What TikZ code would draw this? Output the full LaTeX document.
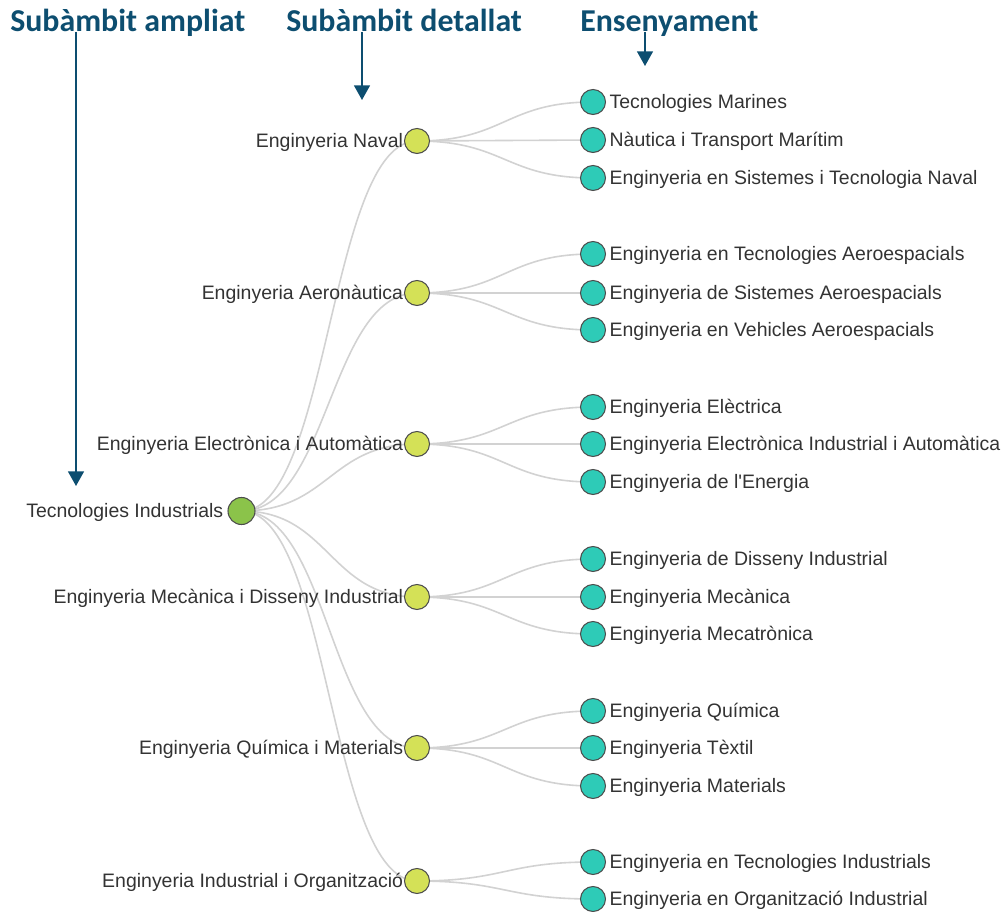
\documentclass[tikz,border=0pt]{standalone}
\usepackage{fontspec}
\setmainfont{Liberation Sans}
\newfontfamily\headfont{Carlito}
\usepackage{tikz}
\usetikzlibrary{arrows.meta,backgrounds}
\definecolor{headblue}{HTML}{0D4E70}
\definecolor{rootgreen}{HTML}{8BC34A}
\definecolor{subyellow}{HTML}{D4E157}
\definecolor{leafteal}{HTML}{2ECBB7}
\definecolor{linkgrey}{HTML}{D2D2D2}
\definecolor{txtgrey}{HTML}{333333}

\begin{document}
\begin{tikzpicture}[x=0.75pt, y=-0.75pt,
    dot/.style={circle, draw=black!70, line width=0.8pt, inner sep=0, minimum size=18.75pt},
    rootdot/.style={dot, fill=rootgreen, minimum size=20.25pt},
    subdot/.style={dot, fill=subyellow},
    leafdot/.style={dot, fill=leafteal},
    lbl/.style={text=txtgrey, font=\fontsize{14.6}{16}\selectfont, inner sep=0.5pt, yshift=-0.8pt},
    head/.style={text=headblue, font=\headfont\bfseries\fontsize{23.9}{28}\selectfont, inner sep=0, anchor=base west},
    hdarrow/.style={draw=headblue, line width=1.1pt, -{Triangle[width=12pt,length=11pt]}},
    link/.style={draw=linkgrey, line width=1.2pt}]
      \useasboundingbox (0,0) rectangle (1001,912);
      % headers
      \node[head] (h1) at (10,32) {Subàmbit ampliat};
      \node[head] (h2) at (286,32) {Subàmbit detallat};
      \node[head] (h3) at (580,32) {Ensenyament};
      \coordinate (t1) at (76,486);
      \coordinate (t2) at (362,100);
      \coordinate (t3) at (645,66);
      \draw[hdarrow] (h1.base -| t1) -- (t1);
      \draw[hdarrow] (h2.base -| t2) -- (t2);
      \draw[hdarrow] (h3.base -| t3) -- (t3);
      % root
      \node[rootdot, label={[lbl, label distance=2.5pt]left:Tecnologies Industrials}] (T) at (241.5,511) {};
      % subambits
      \node[subdot, label={[lbl]left:Enginyeria Naval}] (n1) at (417,141) {};
      \node[subdot, label={[lbl]left:Enginyeria Aeronàutica}] (n2) at (417,293) {};
      \node[subdot, label={[lbl]left:Enginyeria Electrònica i Automàtica}] (n3) at (417,444) {};
      \node[subdot, label={[lbl]left:Enginyeria Mecànica i Disseny Industrial}] (n4) at (417,597) {};
      \node[subdot, label={[lbl]left:Enginyeria Química i Materials}] (n5) at (417,748) {};
      \node[subdot, label={[lbl]left:Enginyeria Industrial i Organització}] (n6) at (417,881) {};
      % ensenyaments
      \tikzset{every label/.append style={label distance=2pt}}
      \node[leafdot, label={[lbl]right:Tecnologies Marines}] (n1a) at (593,102) {};
      \node[leafdot, label={[lbl]right:Nàutica i Transport Marítim}] (n1b) at (593,140) {};
      \node[leafdot, label={[lbl]right:Enginyeria en Sistemes i Tecnologia Naval}] (n1c) at (593,178) {};
      \node[leafdot, label={[lbl]right:Enginyeria en Tecnologies Aeroespacials}] (n2a) at (593,254) {};
      \node[leafdot, label={[lbl]right:Enginyeria de Sistemes Aeroespacials}] (n2b) at (593,293) {};
      \node[leafdot, label={[lbl]right:Enginyeria en Vehicles Aeroespacials}] (n2c) at (593,330) {};
      \node[leafdot, label={[lbl]right:Enginyeria Elèctrica}] (n3a) at (593,407) {};
      \node[leafdot, label={[lbl]right:Enginyeria Electrònica Industrial i Automàtica}] (n3b) at (593,444) {};
      \node[leafdot, label={[lbl]right:Enginyeria de l\textquotesingle Energia}] (n3c) at (593,482) {};
      \node[leafdot, label={[lbl]right:Enginyeria de Disseny Industrial}] (n4a) at (593,559) {};
      \node[leafdot, label={[lbl]right:Enginyeria Mecànica}] (n4b) at (593,597) {};
      \node[leafdot, label={[lbl]right:Enginyeria Mecatrònica}] (n4c) at (593,634) {};
      \node[leafdot, label={[lbl]right:Enginyeria Química}] (n5a) at (593,711) {};
      \node[leafdot, label={[lbl]right:Enginyeria Tèxtil}] (n5b) at (593,748) {};
      \node[leafdot, label={[lbl]right:Enginyeria Materials}] (n5c) at (593,786) {};
      \node[leafdot, label={[lbl]right:Enginyeria en Tecnologies Industrials}] (n6a) at (593,862) {};
      \node[leafdot, label={[lbl]right:Enginyeria en Organització Industrial}] (n6b) at (593,899) {};
      % links, behind the dots
      \begin{scope}[on background layer]
        \draw[link] (T.center) .. controls +(88,0) and +(-88,0) .. (n1.center);
        \draw[link] (T.center) .. controls +(88,0) and +(-88,0) .. (n2.center);
        \draw[link] (T.center) .. controls +(88,0) and +(-88,0) .. (n3.center);
        \draw[link] (T.center) .. controls +(88,0) and +(-88,0) .. (n4.center);
        \draw[link] (T.center) .. controls +(88,0) and +(-88,0) .. (n5.center);
        \draw[link] (T.center) .. controls +(88,0) and +(-88,0) .. (n6.center);
        \draw[link] (n1.center) .. controls +(88,0) and +(-88,0) .. (n1a.center);
        \draw[link] (n1.center) .. controls +(88,0) and +(-88,0) .. (n1b.center);
        \draw[link] (n1.center) .. controls +(88,0) and +(-88,0) .. (n1c.center);
        \draw[link] (n2.center) .. controls +(88,0) and +(-88,0) .. (n2a.center);
        \draw[link] (n2.center) .. controls +(88,0) and +(-88,0) .. (n2b.center);
        \draw[link] (n2.center) .. controls +(88,0) and +(-88,0) .. (n2c.center);
        \draw[link] (n3.center) .. controls +(88,0) and +(-88,0) .. (n3a.center);
        \draw[link] (n3.center) .. controls +(88,0) and +(-88,0) .. (n3b.center);
        \draw[link] (n3.center) .. controls +(88,0) and +(-88,0) .. (n3c.center);
        \draw[link] (n4.center) .. controls +(88,0) and +(-88,0) .. (n4a.center);
        \draw[link] (n4.center) .. controls +(88,0) and +(-88,0) .. (n4b.center);
        \draw[link] (n4.center) .. controls +(88,0) and +(-88,0) .. (n4c.center);
        \draw[link] (n5.center) .. controls +(88,0) and +(-88,0) .. (n5a.center);
        \draw[link] (n5.center) .. controls +(88,0) and +(-88,0) .. (n5b.center);
        \draw[link] (n5.center) .. controls +(88,0) and +(-88,0) .. (n5c.center);
        \draw[link] (n6.center) .. controls +(88,0) and +(-88,0) .. (n6a.center);
        \draw[link] (n6.center) .. controls +(88,0) and +(-88,0) .. (n6b.center);
      \end{scope}
    \end{tikzpicture}
\end{document}
